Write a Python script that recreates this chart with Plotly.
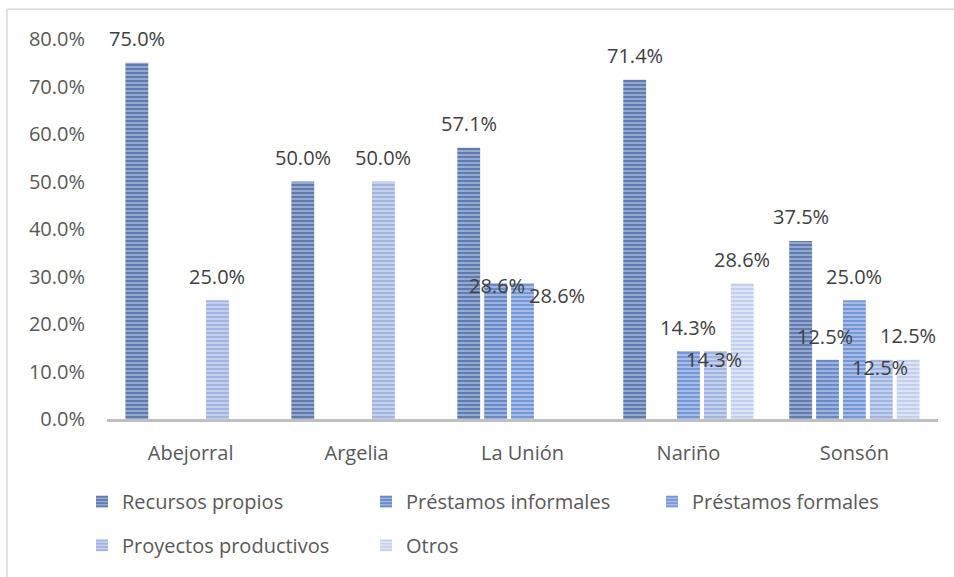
import plotly.graph_objects as go

municipios = ["Abejorral", "Argelia", "La Unión", "Nariño", "Sonsón"]
series_names = ["Recursos propios", "Préstamos informales", "Préstamos formales",
                "Proyectos productivos", "Otros"]

recursos_propios = [0.75, 0.50, 0.571, 0.714, 0.375]
prestamos_informales = [0.0, 0.0, 0.286, 0.0, 0.125]
prestamos_formales = [0.0, 0.0, 0.286, 0.143, 0.25]
proyectos_productivos = [0.25, 0.50, 0.0, 0.143, 0.125]
otros = [0.0, 0.0, 0.0, 0.286, 0.125]

values = [recursos_propios, prestamos_informales, prestamos_formales,
          proyectos_productivos, otros]

# stripe colours (dark line, light background) per series
fg_colors = ["#2C4D8B", "#3660B0", "#4472C4", "#7F97D2", "#A9BBE5"]
bg_colors = ["#94A8D0", "#9DB2DD", "#A7BDE8", "#C3D0EE", "#DDE4F5"]

# per-label nudges (series index, category index) -> (dx, dy) in px, like Excel moved them
label_nudge = {
    (1, 2): (1, -26),
    (2, 2): (34, -36),
    (3, 3): (-1, -32),
    (1, 4): (-3, -1),
    (3, 4): (-1, -32),
}

# legend entries: text start x, row centre y (px), Excel-like two-row layout
legend_pos = [(122, 504), (406, 504), (692, 504), (122, 548), (406, 548)]

W, H = 954, 577
L, R, T, B = 107, 16, 39, 156
pw = W - L - R
ph = H - T - B
pitch = 26.8
FONT = "Open Sans"

fig = go.Figure()

legend_cfg = {}
for i, (name, vals) in enumerate(zip(series_names, values)):
    lg = "legend" if i == 0 else f"legend{i + 1}"
    fig.add_trace(go.Bar(
        x=municipios, y=vals, name=name, showlegend=True,
        marker=dict(color=bg_colors[i], line=dict(width=0),
                    pattern=dict(shape="-", fgcolor=fg_colors[i], bgcolor=bg_colors[i],
                                 size=4, solidity=0.5, fillmode="overlay")),
        legend=lg,
    ))
    lx, ly = legend_pos[i]
    legend_cfg[lg] = dict(orientation="h", x=(lx - 40 - L) / pw, xanchor="left",
                          y=-(ly - T - ph) / ph, yanchor="middle",
                          font=dict(family=FONT, size=20, color="#595959"),
                          bgcolor="rgba(0,0,0,0)")
    for j, v in enumerate(vals):
        if v <= 0:
            continue
        dx, dy = label_nudge.get((i, j), (0, 0))
        fig.add_annotation(
            x=municipios[j], y=v, text=f"{v * 100:.1f}%", showarrow=False,
            xshift=(i - 2) * pitch + dx, yshift=24 + dy, yanchor="middle",
            font=dict(family=FONT, size=20, color="#404040"),
        )

fig.add_shape(type="rect", xref="paper", yref="paper",
              x0=(7 - L) / pw, x1=(W + 5 - L) / pw,
              y0=-(H + 5 - T - ph) / ph, y1=(ph + T - 9) / ph,
              line=dict(color="#D9D9D9", width=1.5), layer="below")

fig.update_layout(
    width=W, height=H,
    margin=dict(l=L, r=R, t=T, b=B),
    plot_bgcolor="white", paper_bgcolor="white",
    barmode="group", bargap=0.19, bargroupgap=0.15,
    font=dict(family=FONT, size=20, color="#595959"),
    showlegend=True,
    **legend_cfg,
)

fig.update_xaxes(showline=True, linecolor="#BFBFBF", linewidth=3, ticks="",
                 showgrid=False, ticklabelstandoff=14)
fig.update_yaxes(range=[0, 0.8], dtick=0.1, tickformat=".1%", showgrid=False,
                 zeroline=False, showline=False, ticks="", ticklabelstandoff=21)

fig.write_html("out.html", config={"displayModeBar": False},
               post_script="document.body.style.margin = '0';")
